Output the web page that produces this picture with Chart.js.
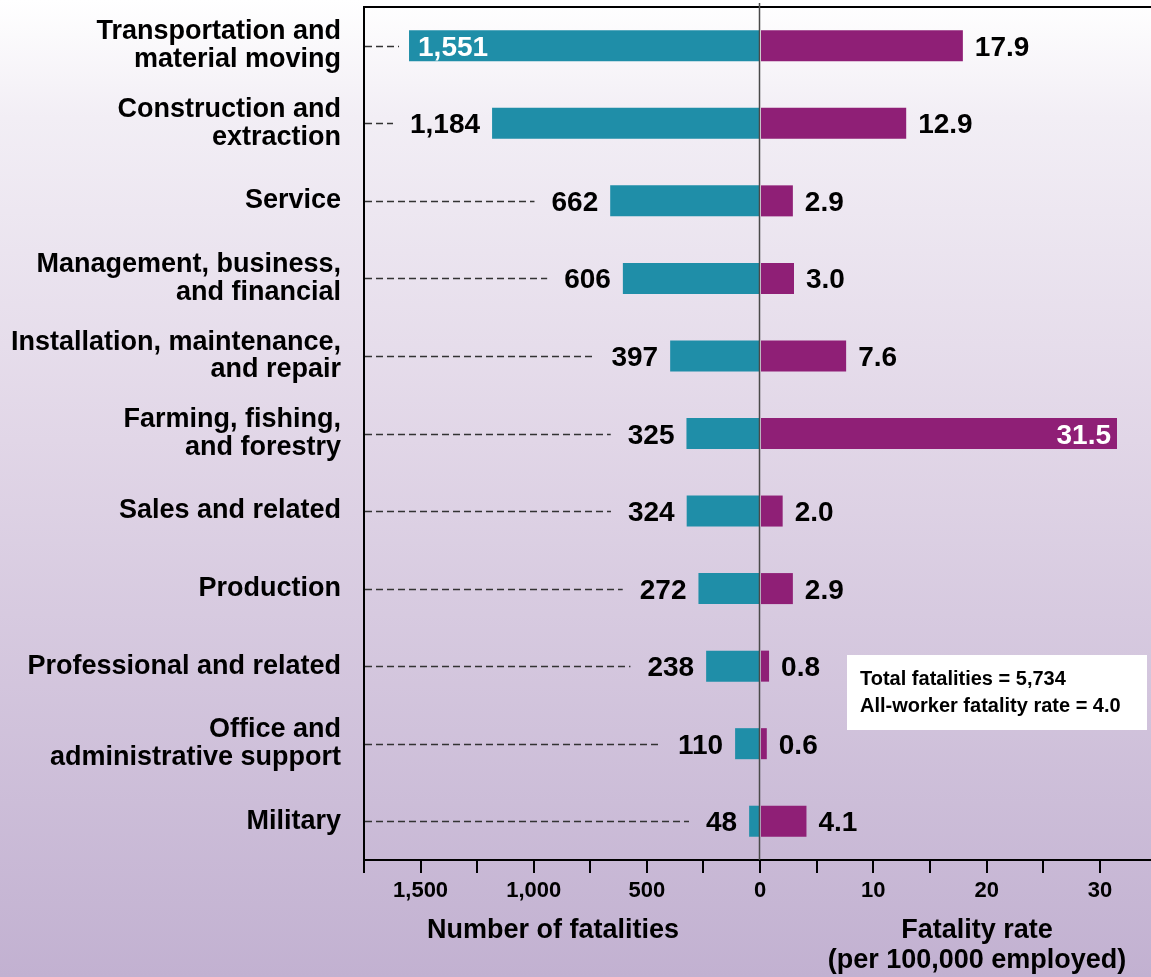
<!DOCTYPE html>
<html><head><meta charset="utf-8">
<script src="https://cdn.jsdelivr.net/npm/chart.js@4/dist/chart.umd.min.js"></script>
<style>
html,body{margin:0;padding:0;}
body{width:1151px;height:977px;overflow:hidden;position:relative;
background:linear-gradient(to bottom,#ffffff 0%,#f2eef5 12%,#e1d6e7 45%,#c2b1d1 100%);}
canvas{position:absolute;left:0;top:0;}
</style></head><body>
<canvas id="left" width="1151" height="977"></canvas>
<canvas id="right" width="1151" height="977"></canvas>
<script>
// ---- data ----
const occupations = [
  ["Transportation and", "material moving"],
  ["Construction and", "extraction"],
  "Service",
  ["Management, business,", "and financial"],
  ["Installation, maintenance,", "and repair"],
  ["Farming, fishing,", "and forestry"],
  "Sales and related",
  "Production",
  "Professional and related",
  ["Office and", "administrative support"],
  "Military"
];
const fatalities = [1551, 1184, 662, 606, 397, 325, 324, 272, 238, 110, 48];
const fatalityRates = [17.9, 12.9, 2.9, 3.0, 7.6, 31.5, 2.0, 2.9, 0.8, 0.6, 4.1];
const fatalityTicks = [0, 250, 500, 750, 1000, 1250, 1500, 1750];
const fatalityTickLabels = ["", "", "500", "", "1,000", "", "1,500", ""];
const rateTicks = [0, 5, 10, 15, 20, 25, 30];
const rateTickLabels = ["0", "", "10", "", "20", "", "30"];
const fatalityMax = 1750;
const rateMax = 34.5;
const totalFatalities = 5734;
const allWorkerRate = 4.0;
const leftTitle = "Number of fatalities";
const rightTitle = ["Fatality rate", "(per 100,000 employed)"];

// ---- styles ----
const FONT = '"Liberation Sans", Arial, Helvetica, sans-serif';
const TEAL = '#1f8ea8';
const PURPLE = '#8f1f76';
Chart.defaults.font.family = FONT;

const leftPlugin = {
  id: 'leftDecor',
  afterDatasetsDraw(chart) {
    const {ctx, chartArea} = chart;
    const meta = chart.getDatasetMeta(0);
    ctx.save();
    ctx.font = 'bold 28px ' + FONT;
    meta.data.forEach((bar, i) => {
      const txt = fatalities[i].toLocaleString('en-US');
      const w = ctx.measureText(txt).width;
      const end = Math.min(bar.x, bar.base);
      const y = bar.y;
      let dashEnd;
      if (end - 12 - w < chartArea.left + 4) {
        ctx.fillStyle = '#fff'; ctx.textAlign = 'left';
        ctx.fillText(txt, end + 9, y + 10);
        dashEnd = end - 10;
      } else {
        ctx.fillStyle = '#000'; ctx.textAlign = 'right';
        ctx.fillText(txt, end - 12, y + 10);
        dashEnd = end - 12 - w - 17;
      }
      ctx.save();
      ctx.setLineDash([7, 4]);
      ctx.strokeStyle = '#333333';
      ctx.lineWidth = 1.5;
      ctx.beginPath();
      ctx.moveTo(chartArea.left + 1, Math.round(y) + 0.5);
      ctx.lineTo(dashEnd, Math.round(y) + 0.5);
      ctx.stroke();
      ctx.restore();
    });
    ctx.restore();
  },
  afterDraw(chart) {
    const {ctx, chartArea} = chart;
    ctx.save();
    // top frame line
    ctx.fillStyle = '#000';
    ctx.fillRect(chartArea.left - 1, chartArea.top - 1, chart.width - chartArea.left + 1, 2);
    // axis title
    ctx.font = 'bold 27px ' + FONT;
    ctx.fillStyle = '#000';
    ctx.textAlign = 'center';
    ctx.textBaseline = 'alphabetic';
    ctx.fillText(leftTitle, 553, 938);
    ctx.restore();
  }
};

const rightPlugin = {
  id: 'rightDecor',
  afterDatasetsDraw(chart) {
    const {ctx, chartArea} = chart;
    const meta = chart.getDatasetMeta(0);
    ctx.save();
    ctx.font = 'bold 28px ' + FONT;
    meta.data.forEach((bar, i) => {
      const txt = fatalityRates[i].toFixed(1);
      const w = ctx.measureText(txt).width;
      const end = Math.max(bar.x, bar.base);
      const y = bar.y;
      if (end + 12 + w > chartArea.right) {
        ctx.fillStyle = '#fff'; ctx.textAlign = 'right';
        ctx.fillText(txt, end - 6, y + 10);
      } else {
        ctx.fillStyle = '#000'; ctx.textAlign = 'left';
        ctx.fillText(txt, end + 12, y + 10);
      }
    });
    ctx.restore();
  },
  afterDraw(chart) {
    const {ctx, chartArea} = chart;
    const x0 = chart.scales.x.getPixelForValue(0);
    ctx.save();
    // center zero line
    ctx.strokeStyle = '#4a4a4a';
    ctx.lineWidth = 1.5;
    ctx.beginPath();
    ctx.moveTo(x0 - 0.5, 3);
    ctx.lineTo(x0 - 0.5, chartArea.bottom);
    ctx.stroke();
    // summary box
    ctx.fillStyle = '#fff';
    ctx.fillRect(847, 655, 300, 75);
    ctx.fillStyle = '#000';
    ctx.font = 'bold 20px ' + FONT;
    ctx.textAlign = 'left';
    ctx.textBaseline = 'alphabetic';
    ctx.fillText('Total fatalities = ' + totalFatalities.toLocaleString('en-US'), 860, 685);
    ctx.fillText('All-worker fatality rate = ' + allWorkerRate.toFixed(1), 860, 712);
    // axis titles
    ctx.font = 'bold 27px ' + FONT;
    ctx.textAlign = 'center';
    ctx.fillText(rightTitle[0], 977, 938);
    ctx.fillText(rightTitle[1], 977, 968);
    ctx.restore();
  }
};

const xTickFont = {size: 22, weight: 'bold'};

new Chart(document.getElementById('left'), {
  type: 'bar',
  data: {
    labels: occupations,
    datasets: [{data: fatalities, backgroundColor: TEAL, borderWidth: 0,
      barPercentage: 0.4, categoryPercentage: 1.0}]
  },
  options: {
    indexAxis: 'y', responsive: false, animation: false, devicePixelRatio: 1,
    layout: {padding: {top: 7, right: 391, left: 0, bottom: 0}},
    plugins: {legend: {display: false}, tooltip: {enabled: false}},
    scales: {
      x: {
        type: 'linear', reverse: true, min: 0, max: fatalityMax, position: 'bottom',
        afterBuildTicks: s => { s.ticks = fatalityTicks.map(v => ({value: v})); },
        afterFit: s => { s.height = 117; s.paddingLeft = 0; s.paddingRight = 0; },
        ticks: {autoSkip: false, maxRotation: 0, padding: 5, color: '#000', font: xTickFont,
          callback: (v, i) => fatalityTickLabels[i]},
        grid: {display: true, drawOnChartArea: false, drawTicks: true, tickLength: 13, color: '#000', lineWidth: 2},
        border: {display: true, color: '#000', width: 2}
      },
      y: {
        type: 'category', position: 'left',
        afterFit: s => { s.width = 364; s.paddingTop = 0; s.paddingBottom = 0; },
        ticks: {padding: 23, color: '#000', autoSkip: false,
          font: {size: 27, weight: 'bold', lineHeight: 1.02}},
        grid: {display: false, drawTicks: false},
        border: {display: true, color: '#000', width: 2}
      }
    }
  },
  plugins: [leftPlugin]
});

new Chart(document.getElementById('right'), {
  type: 'bar',
  data: {
    labels: occupations,
    datasets: [{data: fatalityRates, backgroundColor: PURPLE, borderWidth: 0,
      barPercentage: 0.4, categoryPercentage: 1.0}]
  },
  options: {
    indexAxis: 'y', responsive: false, animation: false, devicePixelRatio: 1,
    layout: {padding: {top: 7, right: 0, left: 760, bottom: 0}},
    plugins: {legend: {display: false}, tooltip: {enabled: false}},
    scales: {
      x: {
        type: 'linear', min: 0, max: rateMax, position: 'bottom',
        afterBuildTicks: s => { s.ticks = rateTicks.map(v => ({value: v})); },
        afterFit: s => { s.height = 117; s.paddingLeft = 0; s.paddingRight = 0; },
        ticks: {autoSkip: false, maxRotation: 0, padding: 5, color: '#000', font: xTickFont,
          callback: (v, i) => rateTickLabels[i]},
        grid: {display: true, drawOnChartArea: false, drawTicks: true, tickLength: 13, color: '#000', lineWidth: 2},
        border: {display: true, color: '#000', width: 2}
      },
      y: {type: 'category', display: false}
    }
  },
  plugins: [rightPlugin]
});
</script>
</body></html>
